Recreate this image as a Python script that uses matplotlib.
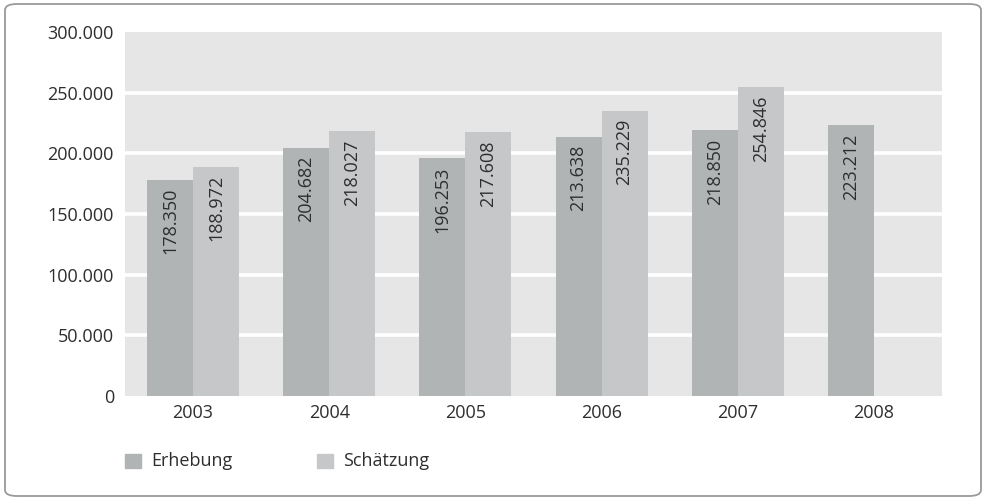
import matplotlib
matplotlib.use("Agg")
import matplotlib.pyplot as plt
from matplotlib.patches import FancyBboxPatch, Rectangle
from matplotlib.ticker import FuncFormatter

# data
years = ["2003", "2004", "2005", "2006", "2007", "2008"]
erhebung = [178350, 204682, 196253, 213638, 218850, 223212]
schaetzung = [188972, 218027, 217608, 235229, 254846, None]
series_names = ["Erhebung", "Schätzung"]

col_erh = "#b1b4b5"
col_sch = "#c6c7c9"
col_bg = "#e6e6e6"
col_txt = "#2e2e2e"

plt.rcParams["font.family"] = ["Open Sans", "DejaVu Sans"]
fs = 13

fig = plt.figure(figsize=(9.84, 5.0), dpi=100)
W, H = 984, 500

# rounded frame around everything
frame = FancyBboxPatch((5 / W, 4 / H), 976 / W, 492 / H,
                       boxstyle="round,pad=0,rounding_size=0.012",
                       transform=fig.transFigure, fill=False,
                       edgecolor="#9a9a9a", linewidth=1.3)
fig.add_artist(frame)

ax = fig.add_axes([125 / W, 1 - 396 / H, 817 / W, 364 / H])
ax.set_facecolor(col_bg)
for s in ax.spines.values():
    s.set_visible(False)


def fmt(v):
    return f"{int(v):,}".replace(",", ".")


bw = 0.338
xs = range(len(years))
for i in xs:
    ax.bar(i - bw / 2, erhebung[i], width=bw, color=col_erh, zorder=2)
    ax.annotate(fmt(erhebung[i]), (i - bw / 2, erhebung[i]),
                xytext=(0, -6), textcoords="offset points", rotation=90,
                ha="center", va="top", color=col_txt, fontsize=fs, zorder=3)
    if schaetzung[i] is not None:
        ax.bar(i + bw / 2, schaetzung[i], width=bw, color=col_sch, zorder=2)
        ax.annotate(fmt(schaetzung[i]), (i + bw / 2, schaetzung[i]),
                    xytext=(0, -6), textcoords="offset points", rotation=90,
                    ha="center", va="top", color=col_txt, fontsize=fs, zorder=3)

ax.set_xlim(-0.5, len(years) - 0.5)
ax.set_ylim(0, 300000)
ax.set_yticks(range(0, 300001, 50000))
ax.yaxis.set_major_formatter(FuncFormatter(lambda v, p: fmt(v)))
ax.set_xticks(list(xs))
ax.set_xticklabels(years)
ax.tick_params(length=0, colors=col_txt, labelsize=fs)
ax.tick_params(axis="y", pad=8)
ax.tick_params(axis="x", pad=6)
for y in range(50000, 300000, 50000):
    ax.axhline(y, color="white", linewidth=2.6, zorder=1)

# legend
leg_items = [(125, col_erh, series_names[0]), (317, col_sch, series_names[1])]
for x0, c, name in leg_items:
    fig.add_artist(Rectangle((x0 / W, 1 - 468 / H), 16 / W, 14 / H,
                             transform=fig.transFigure, color=c))
    fig.text((x0 + 26) / W, 1 - 461 / H, name, ha="left", va="center",
             color=col_txt, fontsize=fs)

fig.savefig("out.png", dpi=100)
